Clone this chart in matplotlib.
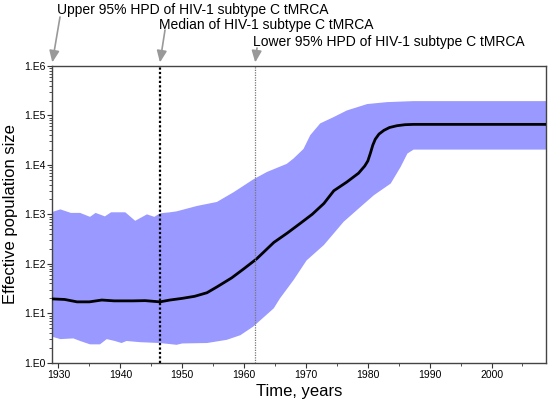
import matplotlib
matplotlib.use("Agg")
import matplotlib.pyplot as plt
import numpy as np
from matplotlib.ticker import FixedLocator, FixedFormatter, LogLocator, MultipleLocator, NullFormatter

plt.rcParams['font.family'] = ['Liberation Sans', 'DejaVu Sans']

# ---- data ----
median_years = [1929, 1931, 1933, 1935, 1937, 1939, 1942, 1944, 1946.4, 1948, 1950, 1952,
                1954, 1955.6, 1958, 1960, 1962, 1964.8, 1967, 1969.1, 1971, 1972.9, 1974.5,
                1976.6, 1978.5, 1979.5, 1980.0, 1980.4, 1980.8, 1981.2, 1981.8, 1982.6,
                1983.5, 1984.7, 1986.0, 1987.4, 2008.8]
median_n = [19.5, 19, 17, 17, 18.5, 17.8, 17.8, 18, 17, 18.5, 20, 22,
            26, 34, 52, 80, 125, 270, 420, 660, 1000, 1660, 3000,
            4500, 6800, 9500, 12000, 17000, 25000, 33000, 42000, 50000,
            57000, 62000, 65000, 66000, 66000]

upper_years = [1929, 1930.3, 1932, 1933.5, 1935.1, 1936, 1937.5, 1938.5, 1940.8, 1942.4,
               1944.3, 1945.5, 1946.4, 1948, 1949.1, 1952.4, 1955.6, 1958.3, 1961.5, 1963.7,
               1966.9, 1968, 1969.6, 1970.7, 1972.3, 1974.5, 1976.6, 1979.9, 1983.1, 1987.4, 2008.8]
upper_n = [1120, 1260, 1070, 1070, 890, 1070, 910, 1100, 1100, 740,
           1000, 890, 1050, 1100, 1150, 1480, 1780, 2800, 5100, 7200,
           10500, 13500, 21000, 40000, 69000, 93000, 126000, 170000, 186000, 195000, 195000]

lower_years = [1929, 1930.3, 1932.4, 1933.5, 1935.1, 1936.7, 1937.8, 1939.1, 1940.2, 1941,
               1943.2, 1946.4, 1949.1, 1950, 1954, 1957.2, 1959.4, 1961.5, 1964.8, 1965.8,
               1968, 1970.1, 1972.9, 1976.1, 1978.8, 1981, 1983.7, 1985.3, 1986.4, 1987.4, 2008.8]
lower_n = [3.35, 3.0, 3.1, 2.75, 2.35, 2.35, 3.0, 2.75, 2.5, 2.75,
           2.6, 2.5, 2.3, 2.45, 2.5, 2.9, 3.6, 5.4, 12.6, 20,
           47, 117, 240, 710, 1410, 2450, 4200, 9100, 17000, 20400, 20400]

tmrca_upper = 1929.0
tmrca_median = 1946.4
tmrca_lower = 1961.8

ytick_vals = [1, 10, 100, 1000, 10000, 100000, 1000000]
ytick_labels = ['1.E0', '1.E1', '1.E2', '1.E3', '1.E4', '1.E5', '1.E6']
xtick_vals = [1930, 1940, 1950, 1960, 1970, 1980, 1990, 2000]

labels = ['Upper 95% HPD of HIV-1 subtype C tMRCA',
          'Median of HIV-1 subtype C tMRCA',
          'Lower 95% HPD of HIV-1 subtype C tMRCA']

# ---- figure ----
fig = plt.figure(figsize=(5.5, 4.05), dpi=100)
W, H = 550, 405
ax = fig.add_axes([52.3 / W, (H - 362.7) / H, (546 - 52.3) / W, (362.7 - 66) / H])

poly_x = np.concatenate([upper_years, lower_years[::-1]])
poly_y = np.concatenate([upper_n, lower_n[::-1]])
ax.fill(poly_x, poly_y, color='#9999ff', lw=0, zorder=1)
ax.plot(median_years, median_n, color='black', lw=2, zorder=3,
        solid_capstyle='round', solid_joinstyle='round')

ax.axvline(tmrca_median, color='black', lw=1.6, ls=(0, (1, 1)), zorder=4)
ax.axvline(tmrca_lower, color='#777777', lw=0.9, ls=(0, (1, 1)), zorder=4)

ax.set_yscale('log')
ax.set_ylim(1, 1e6)
ax.set_xlim(1929, 2008.8)

ax.yaxis.set_major_locator(FixedLocator(ytick_vals))
ax.yaxis.set_major_formatter(FixedFormatter(ytick_labels))
ax.yaxis.set_minor_locator(LogLocator(base=10, subs=np.arange(2, 10)))
ax.yaxis.set_minor_formatter(NullFormatter())
ax.xaxis.set_major_locator(FixedLocator(xtick_vals))
ax.xaxis.set_minor_locator(MultipleLocator(5))

for s in ax.spines.values():
    s.set_color('#444444')
    s.set_linewidth(1.0)

ax.tick_params(axis='both', which='major', direction='out', length=3.5, width=0.8,
               color='#333333', labelsize=7.5, pad=1.5)
ax.tick_params(axis='both', which='minor', direction='out', length=2, width=0.6, color='#333333')

ax.set_xlabel('Time, years', fontsize=12, labelpad=3)
ax.set_ylabel('Effective population size', fontsize=12, labelpad=4)

# annotations
text_pos = [(57.3, 10), (159, 25), (253, 41.7)]
arrow_start = [(60, 17), (165, 30), (257, 48)]
arrow_x = [tmrca_upper, tmrca_median, tmrca_lower]
for lab, (tx, ty), (sx, sy), xx in zip(labels, text_pos, arrow_start, arrow_x):
    fig.text(tx / W, 1 - ty / H, lab, fontsize=10, ha='left', va='center')
    ax.annotate('', xy=(xx, 1.012), xycoords=('data', 'axes fraction'),
                xytext=(sx / W, 1 - sy / H), textcoords='figure fraction',
                arrowprops=dict(arrowstyle='-|>,head_length=0.7,head_width=0.3',
                                color='#999999', lw=1.2, shrinkA=0, shrinkB=0),
                annotation_clip=False)

fig.savefig('out.png', dpi=100)
